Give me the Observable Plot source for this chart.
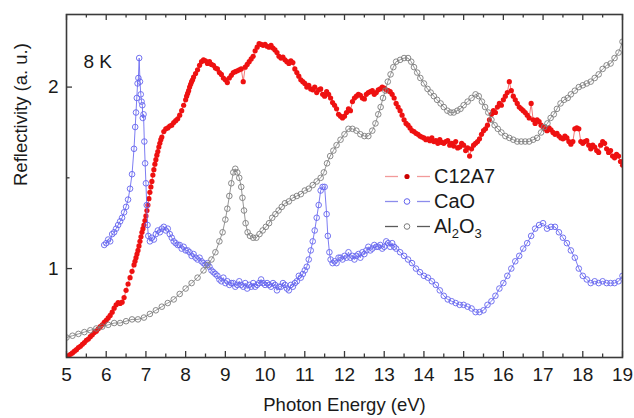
<!DOCTYPE html>
<html><head><meta charset="utf-8">
<script src="https://cdn.jsdelivr.net/npm/d3@7"></script>
<script src="https://cdn.jsdelivr.net/npm/@observablehq/plot@0.6"></script>
<style>
body{margin:0;background:#fff;font-family:"Liberation Sans",Arial,sans-serif;}
#wrap{position:relative;width:634px;height:418px;overflow:hidden;}
#legend{position:absolute;left:380px;top:164px;width:150px;color:#1a1a1a;font-size:20px;}
.row{position:relative;height:25px;line-height:25px;}
.row svg{position:absolute;left:0;top:0;}
.row span{position:absolute;left:54px;top:0;white-space:nowrap;}
.row sub{font-size:13px;vertical-align:-5px;line-height:0;}
</style></head>
<body><div id="wrap"><div id="chart"></div><div id="legend"></div></div>
<script>
// ---- data (Photon energy eV, reflectivity a.u.) ----
const c12a7 = [
[5.00,.510],[5.05,.520],[5.10,.528],[5.15,.535],[5.20,.545],[5.25,.553],[5.30,.565],[5.35,.572],[5.40,.583],[5.45,.592],
[5.50,.605],[5.55,.612],[5.60,.625],[5.65,.635],[5.70,.648],[5.75,.655],[5.80,.668],[5.85,.680],[5.90,.690],[5.95,.703],
[6.00,.715],[6.05,.728],[6.10,.742],[6.15,.760],[6.20,.782],[6.25,.800],[6.30,.812],[6.35,.808],[6.40,.815],[6.45,.840],
[6.50,.880],[6.55,.915],[6.60,.950],[6.65,.985],[6.70,1.020],[6.725,1.040],[6.75,1.060],[6.775,1.080],[6.80,1.100],[6.825,1.125],
[6.85,1.150],[6.875,1.175],[6.90,1.200],[6.925,1.220],[6.95,1.240],[6.975,1.265],[7.00,1.290],[7.025,1.320],[7.05,1.350],[7.075,1.385],
[7.10,1.420],[7.125,1.450],[7.15,1.480],[7.175,1.515],[7.20,1.545],[7.225,1.575],[7.25,1.600],[7.275,1.625],[7.30,1.645],[7.325,1.670],
[7.35,1.690],[7.375,1.710],[7.40,1.725],[7.45,1.755],
[7.50,1.770],[7.55,1.775],[7.60,1.785],[7.65,1.790],[7.70,1.805],[7.75,1.815],[7.80,1.825],[7.85,1.845],[7.90,1.870],[7.95,1.900],
[8.00,1.930],[8.025,1.950],[8.05,1.965],[8.075,1.980],[8.10,2.000],[8.125,2.015],[8.15,2.030],[8.175,2.040],[8.20,2.055],[8.25,2.075],
[8.30,2.095],[8.35,2.120],[8.40,2.140],[8.45,2.150],
[8.50,2.145],[8.55,2.130],[8.60,2.140],[8.65,2.125],[8.70,2.120],[8.75,2.105],[8.80,2.100],[8.85,2.080],[8.90,2.070],[8.95,2.050],
[9.00,2.040],[9.05,2.025],[9.10,2.050],[9.15,2.065],[9.20,2.080],[9.25,2.085],[9.30,2.090],[9.35,2.095],[9.40,2.100],[9.45,2.030],
[9.50,2.110],[9.55,2.125],[9.60,2.140],[9.65,2.155],[9.70,2.170],[9.75,2.200],[9.80,2.220],[9.85,2.240],[9.90,2.235],[9.95,2.230],
[10.00,2.235],[10.05,2.225],[10.10,2.220],[10.15,2.230],[10.20,2.215],[10.25,2.205],[10.30,2.190],[10.35,2.170],[10.40,2.160],[10.45,2.165],
[10.50,2.150],[10.55,2.140],[10.60,2.130],[10.65,2.145],[10.70,2.135],[10.75,2.100],[10.80,2.080],[10.85,2.060],[10.90,2.040],[10.95,2.030],
[11.00,2.020],[11.05,2.000],[11.10,2.010],[11.15,1.990],[11.20,1.985],[11.25,2.000],[11.30,1.970],[11.35,1.985],[11.40,1.990],[11.45,1.960],
[11.50,1.950],[11.55,1.975],[11.60,1.960],[11.65,1.940],[11.70,1.915],[11.75,1.900],[11.80,1.880],[11.85,1.850],[11.90,1.840],[11.95,1.830],
[12.00,1.840],[12.05,1.860],[12.10,1.880],[12.15,1.870],[12.20,1.920],[12.25,1.940],[12.30,1.950],[12.35,1.960],[12.40,1.955],[12.45,1.940],
[12.50,1.935],[12.55,1.960],[12.60,1.970],[12.65,1.975],[12.70,1.980],[12.75,1.960],[12.80,1.970],[12.85,1.985],[12.90,1.990],[12.95,2.000],
[13.00,1.995],[13.05,1.985],[13.10,1.980],[13.15,1.975],[13.20,1.960],[13.25,1.940],[13.30,1.910],[13.35,1.890],[13.40,1.870],[13.45,1.845],
[13.50,1.820],[13.55,1.800],[13.60,1.790],[13.65,1.775],[13.70,1.760],[13.75,1.755],[13.80,1.745],[13.85,1.740],[13.90,1.730],[13.95,1.725],
[14.00,1.720],[14.05,1.710],[14.10,1.715],[14.15,1.705],[14.20,1.720],[14.25,1.700],[14.30,1.705],[14.35,1.690],[14.40,1.710],[14.45,1.695],
[14.50,1.690],[14.55,1.700],[14.60,1.705],[14.65,1.680],[14.70,1.690],[14.75,1.675],[14.80,1.700],[14.85,1.665],[14.90,1.670],[14.95,1.690],
[15.00,1.680],[15.05,1.650],[15.10,1.665],[15.15,1.620],[15.20,1.660],[15.25,1.680],[15.30,1.690],[15.35,1.700],[15.40,1.715],[15.45,1.740],
[15.50,1.760],[15.55,1.770],[15.60,1.790],[15.65,1.820],[15.70,1.850],[15.75,1.870],[15.80,1.860],[15.85,1.890],[15.90,1.910],[15.95,1.900],
[16.00,1.930],[16.05,1.950],[16.10,1.970],[16.15,2.030],[16.20,1.980],[16.25,1.950],[16.30,1.930],[16.35,1.910],[16.40,1.890],[16.45,1.880],
[16.50,1.870],[16.55,1.860],[16.60,1.845],[16.65,1.830],[16.70,1.910],[16.75,1.820],[16.80,1.800],[16.85,1.820],[16.90,1.810],[16.95,1.790],
[17.00,1.780],[17.05,1.770],[17.10,1.760],[17.15,1.775],[17.20,1.765],[17.25,1.750],[17.30,1.740],[17.35,1.745],[17.40,1.730],[17.45,1.720],
[17.50,1.715],[17.55,1.730],[17.60,1.720],[17.65,1.700],[17.70,1.685],[17.75,1.700],[17.80,1.770],[17.85,1.775],[17.90,1.770],[17.95,1.700],
[18.00,1.690],[18.05,1.700],[18.10,1.705],[18.15,1.680],[18.20,1.660],[18.25,1.680],[18.30,1.670],[18.35,1.650],[18.40,1.640],[18.45,1.680],
[18.50,1.700],[18.55,1.690],[18.60,1.660],[18.65,1.640],[18.70,1.650],[18.75,1.620],[18.80,1.610],[18.85,1.630],[18.90,1.620],[18.95,1.590],
[19.00,1.570]];

const cao = [
[5.95,1.13],[6.00,1.14],[6.05,1.16],[6.10,1.15],[6.15,1.19],[6.20,1.20],[6.25,1.22],[6.30,1.24],[6.35,1.26],[6.40,1.28],
[6.45,1.31],[6.50,1.34],[6.55,1.38],[6.60,1.44],[6.65,1.52],[6.70,1.66],[6.73,1.78],[6.75,1.86],[6.77,1.94],[6.79,2.02],
[6.81,2.05],[6.83,2.16],[6.85,2.03],[6.87,1.96],[6.89,1.92],[6.91,1.90],[6.92,1.83],[6.94,1.85],[6.96,1.70],[6.98,1.58],
[7.00,1.47],[7.02,1.35],[7.04,1.24],[7.06,1.18],[7.10,1.15],[7.15,1.17],[7.20,1.16],[7.25,1.19],[7.30,1.21],[7.35,1.20],
[7.40,1.22],[7.45,1.23],[7.50,1.21],[7.55,1.22],[7.60,1.19],[7.65,1.17],[7.70,1.15],[7.75,1.14],[7.80,1.13],[7.85,1.13],
[7.90,1.11],[7.95,1.12],[8.00,1.10],[8.05,1.10],[8.10,1.09],[8.15,1.07],[8.20,1.08],[8.25,1.06],[8.30,1.05],[8.35,1.06],
[8.40,1.04],[8.45,1.03],[8.50,1.02],[8.55,1.03],[8.60,1.01],[8.65,0.99],[8.70,0.98],[8.75,0.97],[8.80,0.96],[8.85,0.94],
[8.90,0.93],[8.95,0.95],[9.00,0.92],[9.05,0.93],[9.10,0.91],[9.15,0.92],[9.20,0.92],[9.25,0.90],[9.30,0.91],[9.35,0.93],
[9.40,0.91],[9.45,0.90],[9.50,0.92],[9.55,0.89],[9.60,0.91],[9.65,0.90],[9.70,0.92],[9.75,0.90],[9.80,0.91],[9.85,0.92],
[9.90,0.94],[9.95,0.92],[10.00,0.91],[10.05,0.92],[10.10,0.91],[10.15,0.90],[10.20,0.92],[10.25,0.91],[10.30,0.88],[10.35,0.90],
[10.40,0.90],[10.45,0.92],[10.50,0.91],[10.55,0.89],[10.60,0.88],[10.65,0.91],[10.70,0.90],[10.75,0.92],[10.80,0.93],[10.85,0.96],
[10.90,0.95],[10.95,0.97],[11.00,0.99],[11.05,1.01],[11.10,1.05],[11.15,1.10],[11.20,1.15],[11.25,1.21],[11.30,1.28],[11.35,1.35],
[11.40,1.43],[11.45,1.45],[11.50,1.45],[11.55,1.30],[11.58,1.18],[11.62,1.09],[11.65,1.05],[11.70,1.03],[11.75,1.04],[11.80,1.03],
[11.85,1.06],[11.90,1.06],[11.95,1.05],[12.00,1.07],[12.05,1.06],[12.10,1.09],[12.15,1.06],[12.20,1.07],[12.25,1.05],[12.30,1.07],
[12.35,1.08],[12.40,1.06],[12.45,1.09],[12.50,1.08],[12.55,1.10],[12.60,1.12],[12.65,1.10],[12.70,1.11],[12.75,1.13],[12.80,1.12],
[12.85,1.12],[12.90,1.13],[12.95,1.11],[13.00,1.12],[13.05,1.15],[13.10,1.14],[13.15,1.12],[13.20,1.14],[13.25,1.12],[13.30,1.11],
[13.40,1.09],[13.50,1.07],[13.60,1.05],[13.70,1.03],[13.80,1.00],[13.90,0.98],[14.00,0.96],[14.10,0.95],[14.20,0.93],[14.30,0.91],
[14.40,0.88],[14.50,0.85],[14.60,0.83],[14.70,0.82],[14.80,0.81],[14.90,0.80],[15.00,0.80],[15.10,0.79],[15.20,0.78],[15.30,0.76],
[15.40,0.76],[15.50,0.77],[15.60,0.80],[15.70,0.82],[15.80,0.85],[15.90,0.89],[16.00,0.92],[16.10,0.96],[16.20,1.00],[16.30,1.04],
[16.40,1.07],[16.50,1.11],[16.60,1.14],[16.70,1.18],[16.80,1.22],[16.90,1.24],[17.00,1.25],[17.10,1.22],[17.20,1.23],[17.30,1.23],
[17.40,1.20],[17.50,1.17],[17.60,1.14],[17.70,1.10],[17.80,1.06],[17.90,1.00],[18.00,0.96],[18.10,0.94],[18.20,0.92],[18.30,0.93],
[18.40,0.92],[18.50,0.93],[18.60,0.92],[18.70,0.92],[18.80,0.92],[18.90,0.93],[19.00,0.96]];

const al2o3 = [
[5.00,0.62],[5.15,0.63],[5.30,0.64],[5.45,0.65],[5.60,0.66],[5.75,0.67],[5.90,0.68],[6.05,0.69],[6.20,0.70],[6.35,0.70],
[6.50,0.71],[6.65,0.72],[6.80,0.72],[6.95,0.73],[7.10,0.75],[7.25,0.77],[7.40,0.79],[7.55,0.81],[7.70,0.83],[7.85,0.86],
[8.00,0.89],[8.15,0.92],[8.30,0.95],[8.45,0.99],[8.55,1.02],[8.65,1.05],[8.75,1.09],[8.85,1.15],[8.93,1.20],[9.00,1.27],
[9.05,1.33],[9.10,1.40],[9.15,1.47],[9.20,1.53],[9.25,1.55],[9.30,1.53],[9.35,1.50],[9.40,1.45],[9.43,1.39],[9.47,1.32],
[9.51,1.25],[9.56,1.20],[9.62,1.18],[9.70,1.17],[9.78,1.17],[9.86,1.19],[9.94,1.21],[10.02,1.23],[10.10,1.25],[10.18,1.28],
[10.26,1.30],[10.34,1.32],[10.42,1.34],[10.50,1.36],[10.60,1.37],[10.70,1.39],[10.80,1.40],[10.90,1.41],[11.00,1.43],[11.10,1.44],
[11.20,1.46],[11.30,1.48],[11.40,1.50],[11.48,1.53],[11.56,1.58],[11.64,1.62],[11.72,1.65],[11.80,1.68],[11.90,1.71],[12.00,1.74],
[12.10,1.77],[12.20,1.77],[12.30,1.76],[12.40,1.74],[12.50,1.73],[12.60,1.73],[12.70,1.76],[12.78,1.80],[12.85,1.85],[12.91,1.89],
[12.97,1.94],[13.03,1.98],[13.09,2.03],[13.16,2.07],[13.23,2.11],[13.30,2.14],[13.40,2.15],[13.50,2.16],[13.60,2.16],[13.68,2.14],
[13.75,2.11],[13.83,2.08],[13.91,2.05],[14.00,2.02],[14.09,1.99],[14.17,1.97],[14.25,1.95],[14.33,1.93],[14.42,1.91],[14.50,1.89],
[14.59,1.87],[14.67,1.86],[14.75,1.86],[14.84,1.87],[14.92,1.88],[15.00,1.90],[15.10,1.92],[15.20,1.94],[15.30,1.96],[15.38,1.95],
[15.46,1.92],[15.54,1.89],[15.62,1.86],[15.70,1.82],[15.78,1.79],[15.86,1.77],[15.95,1.75],[16.05,1.73],[16.15,1.72],[16.25,1.71],
[16.35,1.70],[16.45,1.70],[16.55,1.70],[16.65,1.70],[16.75,1.71],[16.85,1.72],[16.95,1.75],[17.03,1.78],[17.11,1.80],[17.19,1.83],
[17.27,1.85],[17.35,1.88],[17.44,1.91],[17.53,1.93],[17.62,1.94],[17.70,1.96],[17.80,1.98],[17.90,2.00],[18.00,2.01],[18.10,2.02],
[18.20,2.03],[18.30,2.05],[18.40,2.07],[18.50,2.10],[18.60,2.12],[18.70,2.13],[18.80,2.16],[18.90,2.19],[19.00,2.25]];

const seriesNames = ["C12A7", "CaO", "Al2O3"];
const xMajor = [5,6,7,8,9,10,11,12,13,14,15,16,17,18,19];
const xMinor = [5.5,6.5,7.5,8.5,9.5,10.5,11.5,12.5,13.5,14.5,15.5,16.5,17.5,18.5];
const yMajor = [1,2];
const yMinor = [1.5];
const xLabel = "Photon Energy (eV)";
const yLabel = "Reflectivity (a. u.)";
const tempLabel = "8 K";

// ---- styles ----
const RED = "#ee1111", RED_LINE = "#f05050";
const BLUE = "#6464ee", BLUE_LINE = "#6e6ef0";
const GREY = "#7d7d7d", GREY_LINE = "#8a8a8a";
const AX = "#3a3a3a";
const W = 634, H = 418, mL = 66, mR = 12, mT = 14, mB = 61;
const iW = W - mL - mR, iH = H - mT - mB;
const FONT = "'Liberation Sans', Arial, sans-serif";

const toObj = a => a.map(([e, r]) => ({e, r}));
const dRed = toObj(c12a7), dBlue = toObj(cao), dGrey = toObj(al2o3);

const chart = Plot.plot({
  width: W, height: H,
  marginLeft: mL, marginRight: mR, marginTop: mT, marginBottom: mB,
  style: {fontFamily: FONT, fontSize: "19px", color: "#1a1a1a", background: "white", overflow: "visible"},
  x: {domain: [5, 19]},
  y: {domain: [0.51, 2.4]},
  marks: [
    Plot.line(dRed, {x: "e", y: "r", stroke: RED_LINE, strokeWidth: 0.8, clip: true}),
    Plot.dot(dRed, {x: "e", y: "r", r: 2.6, fill: RED, stroke: "none", clip: true}),
    Plot.line(dBlue, {x: "e", y: "r", stroke: BLUE_LINE, strokeWidth: 0.9, clip: true}),
    Plot.dot(dBlue, {x: "e", y: "r", r: 2.8, fill: "none", stroke: BLUE, strokeWidth: 0.9, clip: true}),
    Plot.line(dGrey, {x: "e", y: "r", stroke: GREY_LINE, strokeWidth: 0.9, clip: true}),
    Plot.dot(dGrey, {x: "e", y: "r", r: 2.8, fill: "none", stroke: GREY, strokeWidth: 0.9, clip: true}),
    // inward ticks
    Plot.ruleX(xMajor, {x: d => d, insetTop: iH - 6, stroke: AX, strokeWidth: 1.3}),
    Plot.ruleX(xMinor, {x: d => d, insetTop: iH - 3.5, stroke: AX, strokeWidth: 1.3}),
    Plot.ruleX(xMajor, {x: d => d, insetBottom: iH - 6, stroke: AX, strokeWidth: 1.3}),
    Plot.ruleX(xMinor, {x: d => d, insetBottom: iH - 3.5, stroke: AX, strokeWidth: 1.3}),
    Plot.ruleY(yMajor, {y: d => d, insetRight: iW - 6, stroke: AX, strokeWidth: 1.3}),
    Plot.ruleY(yMinor, {y: d => d, insetRight: iW - 3.5, stroke: AX, strokeWidth: 1.3}),
    Plot.frame({stroke: AX, strokeWidth: 1.6}),
    Plot.axisX({ticks: xMajor, tickSize: 0, tickPadding: 10, tickFormat: d => String(d), label: null, fontSize: 19}),
    Plot.axisY({ticks: yMajor, tickSize: 0, tickPadding: 8, tickFormat: d => String(d), label: null, fontSize: 19}),
    Plot.text([xLabel], {frameAnchor: "bottom", dy: 53, text: d => d, fontSize: 18.5}),
    Plot.text([yLabel], {frameAnchor: "left", dx: -45, rotate: -90, text: d => d, fontSize: 18.5}),
    Plot.text([tempLabel], {frameAnchor: "top-left", dx: 17, dy: 40, textAnchor: "start", text: d => d, fontSize: 19})
  ]
});
document.getElementById("chart").appendChild(chart);

// ---- legend (inside plot, HTML overlay) ----
const legendStyles = [
  {line: "#f29a9a", mark: () => `<circle cx="27" cy="12.5" r="2.6" fill="#cc0000"/>`},
  {line: "#8c8cec", mark: () => `<circle cx="27" cy="12.5" r="2.8" fill="white" stroke="${BLUE}" stroke-width="1"/>`},
  {line: "#5a5a5a", mark: () => `<circle cx="27" cy="12.5" r="2.8" fill="white" stroke="${GREY}" stroke-width="1"/>`}
];
const fmtName = n => n === "Al2O3" ? n.replace(/(\d)/g, m => `<sub>${m}</sub>`) : n;
const leg = document.getElementById("legend");
seriesNames.forEach((name, i) => {
  const s = legendStyles[i];
  const row = document.createElement("div");
  row.className = "row";
  row.innerHTML = `<svg width="54" height="25"><line x1="5" x2="18" y1="12.5" y2="12.5" stroke="${s.line}" stroke-width="1.3"/><line x1="37" x2="50" y1="12.5" y2="12.5" stroke="${s.line}" stroke-width="1.3"/>${s.mark()}</svg><span>${fmtName(name)}</span>`;
  leg.appendChild(row);
});
</script>
</body></html>
